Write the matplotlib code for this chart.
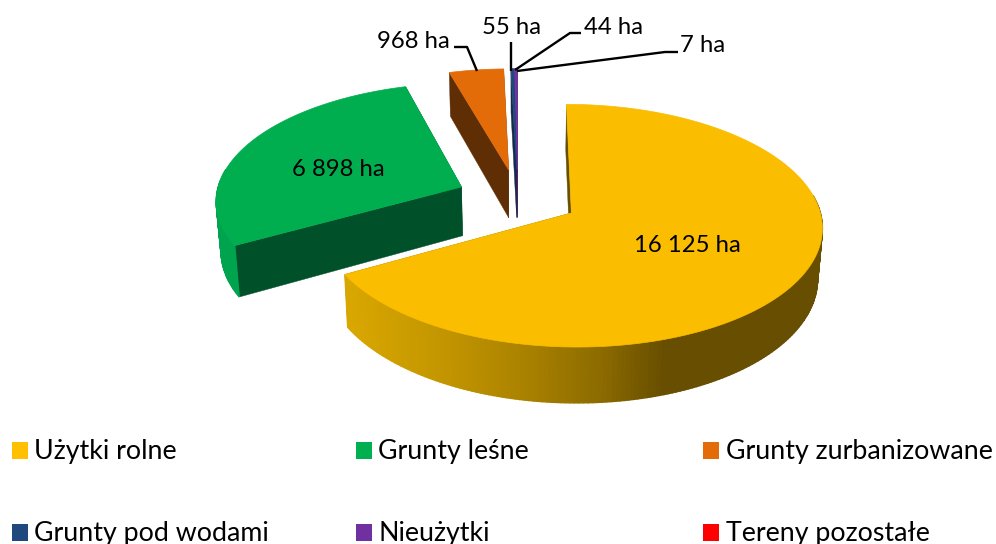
import numpy as np
import matplotlib
matplotlib.use("Agg")
import matplotlib.pyplot as plt
from matplotlib.patches import Polygon, Rectangle

plt.rcParams['font.family'] = ['Lato', 'DejaVu Sans']

categories = ["Użytki rolne", "Grunty leśne", "Grunty zurbanizowane",
              "Grunty pod wodami", "Nieużytki", "Tereny pozostałe"]
values = [16125, 6898, 968, 55, 44, 7]
labels = ["16 125 ha", "6 898 ha", "968 ha", "55 ha", "44 ha", "7 ha"]
colors = ["#FBBD00", "#00AE50", "#E36C09", "#1F497D", "#7030A0", "#FF0000"]
legend_colors = ["#FFC000", "#00B050", "#E36C09", "#1F497D", "#7030A0", "#FF0000"]
side_colors = ["#674E00", "#00502A", "#5F2E05", "#14294B", "#3A1A55", "#800000"]
curve_colors = [None, "#00A34E", "#5F2E05", "#14294B", "#3A1A55", "#800000"]

# picture is laid out in pixels, y going down
fig = plt.figure(figsize=(9.96, 5.44), dpi=100)
ax = fig.add_axes([0, 0, 1, 1])
ax.set_xlim(0, 996)
ax.set_ylim(544, 0)
ax.axis("off")

# perspective of the pie plane, fitted on the picture
VIEW_X = 520
APEX_X, APEX_Y = 570, 213
RX, RY, K = 249, 120, 0.105
DEPTH, SHRINK = 50, 0.016
EXPLODE = 0.25
CENTER = (-0.21, 0.127)


def project(x, y, low=False):
    d = 1 + K * y
    px = VIEW_X + ((APEX_X - VIEW_X) + RX * x) / d
    py = APEX_Y - RY * y / d
    if low:
        px = VIEW_X + (px - VIEW_X) * (1 - SHRINK)
        py = py + DEPTH / d
    return px, py


def yellow_shade(px):
    stops_x = [343, 430, 520, 600, 665]
    stops_c = [(0xDA, 0xA8, 0x00), (0xC6, 0x98, 0x00), (0xAC, 0x83, 0x00),
               (0x8C, 0x6B, 0x00), (0x67, 0x4E, 0x00)]
    return tuple(np.interp(px, stops_x, [c[i] for c in stops_c]) / 255 for i in range(3))


total = sum(values)
angles = np.concatenate([[0], np.cumsum(values)]) / total * 2 * np.pi


def draw_slice(i):
    t0, t1 = angles[i], angles[i + 1]
    mid = (t0 + t1) / 2
    ox = CENTER[0] + EXPLODE * np.sin(mid)
    oy = CENTER[1] + EXPLODE * np.cos(mid)
    ts = np.linspace(t0, t1, max(int((t1 - t0) * 60), 4))
    rim_x = ox + np.sin(ts)
    rim_y = oy + np.cos(ts)

    # flat sides
    for t in (t0, t1):
        ex, ey = ox + np.sin(t), oy + np.cos(t)
        face = [project(ox, oy), project(ex, ey), project(ex, ey, True), project(ox, oy, True)]
        ax.add_patch(Polygon(face, closed=True, fc=side_colors[i], ec=side_colors[i], lw=0.3, zorder=2 + i * 0.1))

    # outer wall in strips, the back of the rim stays hidden
    for j in range(len(ts) - 1):
        if np.cos(ts[j]) > 0.15:
            continue
        a = project(rim_x[j], rim_y[j])
        b = project(rim_x[j + 1], rim_y[j + 1])
        c = project(rim_x[j + 1], rim_y[j + 1], True)
        d = project(rim_x[j], rim_y[j], True)
        col = yellow_shade((a[0] + b[0]) / 2) if i == 0 else curve_colors[i]
        ax.add_patch(Polygon([a, b, c, d], closed=True, fc=col, ec=col, lw=1.0, zorder=2 + i * 0.1))

    # top
    top = [project(ox, oy)] + [project(x, y) for x, y in zip(rim_x, rim_y)]
    ax.add_patch(Polygon(top, closed=True, fc=colors[i], ec=colors[i], lw=0.5, zorder=3 + i * 0.1))


for i in [5, 4, 3, 2, 1, 0]:
    if values[i] > 0 and i != 5:
        draw_slice(i)

# data labels
label_pos = [(687, 245), (338, 169), (413, 41), (511, 28), (614, 27), (703, 45)]
for text, (x, y) in zip(labels, label_pos):
    ax.text(x, y, text, fontsize=17.2, color="black", ha="center", va="center", zorder=10)

# leader lines
leaders = [
    ([454, 467, 477], [47, 47, 71]),
    ([511, 511], [42, 71]),
    ([581, 570, 515], [33, 33, 70]),
    ([678, 665, 517], [52, 52, 71]),
]
for xs, ys in leaders:
    ax.plot(xs, ys, color="black", lw=1.7, zorder=9, solid_capstyle="butt")

# legend
legend_x = [12, 356, 703]
legend_y = [442, 524]
for n, name in enumerate(categories):
    lx = legend_x[n % 3]
    ly = legend_y[n // 3]
    ax.add_patch(Rectangle((lx, ly), 16, 16.5, fc=legend_colors[n], ec="none"))
    ax.text(lx + 22.5, ly + 16.5, name, fontsize=19.3, color="black", ha="left", va="baseline")

fig.savefig("out.png", dpi=100)
